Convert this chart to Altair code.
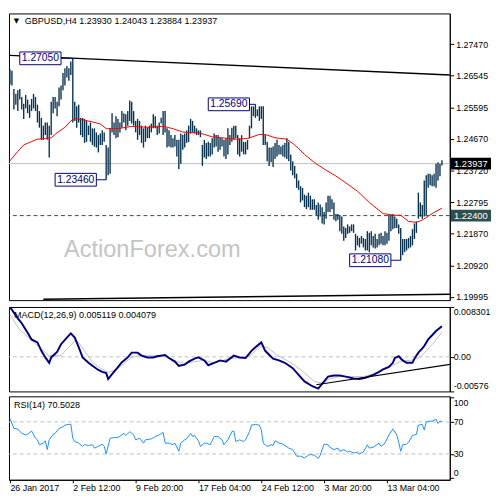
import altair as alt
import pandas as pd

# ---------------- data ----------------
highs = [
    1.2673, 1.2668, 1.2614, 1.2600, 1.2611, 1.2614, 1.2591, 1.2571, 1.2597, 1.2583,
    1.2568, 1.2585, 1.2600, 1.2591, 1.2568, 1.2549, 1.2529, 1.2506, 1.2515, 1.2515,
    1.2506, 1.2577, 1.2591, 1.2591, 1.2577, 1.2619, 1.2625, 1.2662, 1.2676, 1.2682,
    1.2676, 1.2696, 1.2705, 1.2577, 1.2563, 1.2568, 1.2529, 1.2529, 1.2526, 1.2520,
    1.2506, 1.2515, 1.2498, 1.2498, 1.2486, 1.2478, 1.2483, 1.2492, 1.2486, 1.2449,
    1.2441, 1.2498, 1.2543, 1.2515, 1.2534, 1.2526, 1.2515, 1.2549, 1.2543, 1.2540,
    1.2549, 1.2580, 1.2577, 1.2549, 1.2520, 1.2526, 1.2520, 1.2506, 1.2498, 1.2506,
    1.2500, 1.2506, 1.2512, 1.2540, 1.2534, 1.2506, 1.2515, 1.2529, 1.2549, 1.2549,
    1.2498, 1.2492, 1.2478, 1.2469, 1.2478, 1.2464, 1.2464, 1.2483, 1.2478, 1.2483,
    1.2492, 1.2506, 1.2526, 1.2520, 1.2506, 1.2498, 1.2492, 1.2492, 1.2449, 1.2464,
    1.2455, 1.2458, 1.2455, 1.2469, 1.2483, 1.2478, 1.2478, 1.2472, 1.2469, 1.2464,
    1.2469, 1.2498, 1.2478, 1.2500, 1.2506, 1.2506, 1.2478, 1.2469, 1.2478, 1.2458,
    1.2458, 1.2464, 1.2506, 1.2563, 1.2563, 1.2569, 1.2554, 1.2563, 1.2563, 1.2563,
    1.2478, 1.2458, 1.2441, 1.2441, 1.2444, 1.2455, 1.2464, 1.2449, 1.2444, 1.2449,
    1.2455, 1.2469, 1.2458, 1.2421, 1.2401, 1.2387, 1.2364, 1.2344, 1.2327, 1.2322,
    1.2302, 1.2299, 1.2308, 1.2299, 1.2288, 1.2288, 1.2271, 1.2279, 1.2273, 1.2265,
    1.2251, 1.2279, 1.2299, 1.2299, 1.2288, 1.2279, 1.2245, 1.2245, 1.2242, 1.2237,
    1.2208, 1.2203, 1.2214, 1.2208, 1.2214, 1.2214, 1.2186, 1.2180, 1.2174, 1.2180,
    1.2174, 1.2171, 1.2194, 1.2189, 1.2194, 1.2180, 1.2186, 1.2171, 1.2186, 1.2189,
    1.2180, 1.2194, 1.2189, 1.2242, 1.2242, 1.2245, 1.2237, 1.2231, 1.2214, 1.2203,
    1.2171, 1.2171, 1.2171, 1.2174, 1.2180, 1.2200, 1.2217, 1.2223, 1.2308, 1.2279,
    1.2271, 1.2344, 1.2359, 1.2364, 1.2364, 1.2359, 1.2364, 1.2393, 1.2398, 1.2393,
    1.2404,
]
lows = [
    1.2628, 1.2625, 1.2554, 1.2568, 1.2549, 1.2583, 1.2554, 1.2526, 1.2557, 1.2543,
    1.2529, 1.2549, 1.2557, 1.2549, 1.2515, 1.2500, 1.2464, 1.2464, 1.2478, 1.2464,
    1.2412, 1.2478, 1.2543, 1.2557, 1.2534, 1.2563, 1.2583, 1.2611, 1.2625, 1.2648,
    1.2639, 1.2656, 1.2515, 1.2520, 1.2500, 1.2515, 1.2478, 1.2472, 1.2455, 1.2458,
    1.2478, 1.2458, 1.2449, 1.2444, 1.2441, 1.2427, 1.2449, 1.2449, 1.2458, 1.2346,
    1.2359, 1.2364, 1.2486, 1.2478, 1.2469, 1.2472, 1.2486, 1.2500, 1.2515, 1.2492,
    1.2506, 1.2520, 1.2512, 1.2506, 1.2486, 1.2464, 1.2478, 1.2455, 1.2441, 1.2458,
    1.2469, 1.2469, 1.2486, 1.2498, 1.2498, 1.2478, 1.2483, 1.2512, 1.2478, 1.2486,
    1.2441, 1.2444, 1.2441, 1.2441, 1.2444, 1.2415, 1.2378, 1.2393, 1.2435, 1.2441,
    1.2455, 1.2458, 1.2483, 1.2486, 1.2483, 1.2478, 1.2478, 1.2472, 1.2387, 1.2412,
    1.2407, 1.2415, 1.2415, 1.2421, 1.2441, 1.2444, 1.2429, 1.2435, 1.2444, 1.2415,
    1.2407, 1.2421, 1.2449, 1.2458, 1.2464, 1.2469, 1.2421, 1.2415, 1.2429, 1.2421,
    1.2421, 1.2435, 1.2469, 1.2498, 1.2534, 1.2529, 1.2534, 1.2520, 1.2526, 1.2449,
    1.2449, 1.2401, 1.2387, 1.2398, 1.2384, 1.2407, 1.2415, 1.2421, 1.2421, 1.2415,
    1.2412, 1.2407, 1.2401, 1.2373, 1.2359, 1.2350, 1.2322, 1.2316, 1.2279, 1.2285,
    1.2265, 1.2259, 1.2265, 1.2257, 1.2257, 1.2257, 1.2242, 1.2228, 1.2237, 1.2217,
    1.2214, 1.2231, 1.2251, 1.2251, 1.2259, 1.2228, 1.2223, 1.2228, 1.2194, 1.2186,
    1.2166, 1.2174, 1.2186, 1.2189, 1.2194, 1.2189, 1.2137, 1.2152, 1.2146, 1.2157,
    1.2146, 1.2137, 1.2137, 1.2132, 1.2152, 1.2146, 1.2143, 1.2146, 1.2152, 1.2157,
    1.2152, 1.2152, 1.2157, 1.2166, 1.2194, 1.2200, 1.2203, 1.2203, 1.2186, 1.2108,
    1.2123, 1.2132, 1.2137, 1.2143, 1.2146, 1.2152, 1.2171, 1.2189, 1.2231, 1.2237,
    1.2231, 1.2237, 1.2242, 1.2322, 1.2330, 1.2327, 1.2327, 1.2322, 1.2344, 1.2356,
    1.2388,
]

ma_idx = [0, 4, 7, 11, 14, 18, 21, 24, 28, 31, 33, 37, 42, 46, 49, 53, 56, 62, 70, 78,
          83, 88, 92, 96, 99, 103, 108, 115, 121, 127, 130, 135, 141, 145, 150, 155, 160, 166, 170, 177,
          183, 190, 196, 199, 203, 207, 210, 215, 220]
ma_val = [1.2402, 1.2430, 1.2449, 1.2459, 1.2466, 1.2468, 1.2470, 1.2485, 1.2501, 1.2520,
          1.2527, 1.2523, 1.2517, 1.2511, 1.2497, 1.2497, 1.2498, 1.2504, 1.2501, 1.2504,
          1.2497, 1.2487, 1.2485, 1.2485, 1.2480, 1.2473, 1.2470, 1.2466, 1.2468, 1.2480,
          1.2480, 1.2470, 1.2466, 1.2449, 1.2421, 1.2397, 1.2378, 1.2357, 1.2341, 1.2312,
          1.2279, 1.2246, 1.2241, 1.2241, 1.2223, 1.2220, 1.2227, 1.2246, 1.2262]

macd_idx = [0, 4, 6, 9, 11, 14, 16, 18, 20, 21, 24, 26, 29, 31, 33, 35, 37, 40, 42, 45,
            47, 49, 50, 52, 55, 57, 60, 62, 65, 67, 70, 73, 75, 79, 81, 84, 86, 89, 91, 94,
            96, 99, 101, 104, 107, 110, 114, 117, 120, 123, 125, 128, 130, 134, 137, 140, 144, 147, 150, 154,
            157, 160, 162, 165, 168, 171, 175, 178, 181, 185, 188, 190, 193, 195, 196, 198, 200, 202, 205, 206,
            208, 210, 211, 213, 215, 217, 220]
macd_val = [0.0083, 0.0064, 0.0056, 0.0040, 0.0029, 0.0024, 0.0010, -0.0001, -0.0010, -0.0001,
            0.0008, 0.0021, 0.0032, 0.0039, 0.0032, 0.0016, -0.0001, -0.0010, -0.0015, -0.0022,
            -0.0025, -0.0027, -0.0037, -0.0029, -0.0017, -0.0009, -0.0001, 0.0007, 0.0007, 0.0002,
            -0.0001, -0.0001, 0.0001, 0.0003, -0.0002, -0.0008, -0.0015, -0.0013, -0.0008, -0.0003,
            -0.0001, -0.0006, -0.0014, -0.0010, -0.0006, -0.0008, 0.0002, -0.0001, -0.0002, 0.0010,
            0.0016, 0.0024, 0.0010, -0.0003, -0.0006, -0.0010, -0.0019, -0.0030, -0.0041, -0.0049,
            -0.0053, -0.0041, -0.0033, -0.0031, -0.0031, -0.0033, -0.0036, -0.0037, -0.0035, -0.0030,
            -0.0025, -0.0021, -0.0017, -0.0010, -0.0002, 0.0001, -0.0006, -0.0010, -0.0010, -0.0003,
            0.0007, 0.0014, 0.0018, 0.0029, 0.0036, 0.0043, 0.0051]

sig_idx = [0, 5, 15, 20, 26, 29, 33, 35, 39, 42, 46, 50, 54, 58, 62, 67, 72, 79, 85, 89,
           94, 99, 104, 112, 119, 123, 127, 131, 136, 141, 145, 150, 155, 159, 163, 168, 174, 180, 185, 190,
           195, 200, 204, 209, 212, 216, 220]
sig_val = [0.0070, 0.0045, 0.0016, 0.0002, 0.0002, 0.0013, 0.0026, 0.0024, 0.0005, -0.0009,
           -0.0019, -0.0026, -0.0022, -0.0011, -0.0001, 0.0003, 0.0002, 0.0001, -0.0008, -0.0011,
           -0.0008, -0.0006, -0.0010, -0.0003, -0.0001, 0.0003, 0.0018, 0.0016, 0.0003, -0.0006,
           -0.0014, -0.0027, -0.0041, -0.0044, -0.0036, -0.0033, -0.0033, -0.0033, -0.0029, -0.0022,
           -0.0014, -0.0006, -0.0006, -0.0001, 0.0010, 0.0024, 0.0041]

rsi_idx = [0, 2, 4, 6, 8, 9, 11, 13, 14, 15, 17, 18, 19, 20, 22, 23, 25, 27, 28, 30,
           31, 32, 33, 35, 37, 38, 40, 42, 43, 45, 47, 48, 49, 51, 53, 55, 58, 59, 61, 63,
           64, 66, 68, 69, 72, 74, 76, 78, 79, 81, 83, 84, 86, 87, 89, 90, 92, 93, 94, 96,
           97, 99, 100, 102, 104, 106, 108, 109, 111, 113, 114, 115, 117, 119, 120, 122, 123, 125, 127, 128,
           129, 131, 133, 134, 135, 137, 139, 142, 144, 146, 148, 150, 152, 153, 155, 157, 158, 160, 162, 163,
           165, 167, 168, 170, 172, 173, 175, 177, 178, 180, 182, 183, 185, 188, 189, 191, 193, 195, 197, 198,
           199, 200, 202, 203, 205, 207, 208, 210, 211, 212, 214, 215, 217, 218, 219, 220]
rsi_val = [74.0, 61.8, 61.1, 55.7, 53.7, 54.5, 58.6, 49.6, 47.6, 41.5,
           43.5, 46.4, 35.4, 47.6, 54.5, 55.7, 61.8, 63.9, 66.0, 66.7,
           67.2, 49.6, 45.5, 43.5, 39.4, 41.5, 40.6, 41.5, 37.3, 39.4,
           42.2, 39.4, 30.0, 49.6, 50.4, 50.4, 55.7, 52.9, 57.8, 53.7,
           47.6, 49.6, 43.5, 47.6, 48.8, 51.7, 53.7, 56.9, 43.5, 43.5,
           41.5, 43.5, 33.3, 43.5, 47.6, 48.8, 55.7, 51.7, 52.9, 46.4,
           39.4, 43.5, 43.5, 41.5, 51.7, 51.7, 47.6, 41.5, 47.6, 57.8,
           58.6, 45.5, 47.6, 45.5, 47.6, 57.8, 66.0, 66.7, 66.0, 59.8,
           43.5, 39.4, 41.5, 40.6, 46.4, 43.5, 42.2, 37.3, 35.4, 27.2,
           27.2, 25.1, 28.4, 29.3, 28.4, 24.4, 28.4, 42.2, 41.5, 38.2,
           35.4, 37.3, 33.3, 35.4, 32.4, 33.3, 31.2, 32.1, 30.0, 32.4,
           41.5, 37.3, 38.2, 43.5, 39.4, 43.5, 53.7, 61.1, 53.7, 44.7,
           33.3, 41.5, 42.2, 44.7, 52.9, 54.5, 66.0, 66.7, 59.8, 70.0,
           70.9, 70.9, 73.3, 67.9, 70.9, 70.5]

price_ticks = [1.27470, 1.26545, 1.25595, 1.24670, 1.23720, 1.22795, 1.21870, 1.20920, 1.19995]
macd_ticks = [0.008301, 0.0, -0.005768]
macd_tick_labels = ["0.008301", "0.00", "-0.005768"]
rsi_ticks = [100, 70, 30, 0]
rsi_tick_labels = ["100", "70", "30", "0"]
date_idx = [0, 32, 64, 96, 128, 160, 192]
date_labels = ["26 Jan 2017", "2 Feb 12:00", "9 Feb 20:00", "17 Feb 04:00",
               "24 Feb 12:00", "3 Mar 20:00", "13 Mar 04:00"]

last_close = 1.23937
support = 1.22400
swing_idx = [32, 125, 49, 199]
swing_price = [1.27050, 1.25690, 1.23460, 1.21080]
trend_top_idx = [0, 227]
trend_top_val = [1.2714, 1.2655]
trend_bot_idx = [17, 227]
trend_bot_val = [1.1993, 1.2008]
macd_trend_idx = [156, 227]
macd_trend_val = [-0.00465, -0.00111]

title_main = "GBPUSD,H4  1.23930 1.24043 1.23884 1.23937"
title_macd = "MACD(12,26,9) 0.005119 0.004079"
title_rsi = "RSI(14) 70.5028"
watermark = "ActionForex.com"

# ---------------- styling ----------------
W = 449
H_MAIN, H_MACD, H_RSI = 292, 86, 85
FONT = "Liberation Sans"
BAR = "#0a3350"
NAVY = "#000080"

xs = alt.Scale(domain=[-0.5, 224.0], nice=False, zero=False)
ys = alt.Scale(domain=[1.19901, 1.28377], nice=False, zero=False)
ms = alt.Scale(domain=[-0.005768, 0.008301], nice=False, zero=False)
rs = alt.Scale(domain=[-2.2, 101.8], nice=False, zero=False)

X = lambda f: alt.X(f, type="quantitative", scale=xs, axis=None)

MAIN_AXIS = alt.Axis(
    orient="right", values=price_ticks, format=".5f", tickSize=4, labelPadding=2, grid=False,
    title=None, domainColor="black", tickColor="black", labelColor="black",
    labelFont=FONT, labelFontSize=9, labelOverlap=False, labelFlush=False, labelBound=False)
MACD_AXIS = alt.Axis(orient="right", values=macd_ticks, labels=False, tickSize=4, grid=False,
                     title=None, domainColor="black", tickColor="black")
RSI_AXIS = alt.Axis(orient="right", values=rsi_ticks, labels=False, tickSize=4, grid=False,
                    title=None, domainColor="black", tickColor="black")


def YM(f):
    return alt.Y(f, type="quantitative", scale=ys, axis=MAIN_AXIS)


def box_path(w, h):
    r = h / w
    return f"M-1,-{r:.4f}L1,-{r:.4f}L1,{r:.4f}L-1,{r:.4f}Z"


# ---------------- main panel ----------------
bars_df = pd.DataFrame({"idx": list(range(len(highs))), "high": highs, "low": lows})
ma_df = pd.DataFrame({"idx": ma_idx, "v": ma_val})

layers = []
layers.append(alt.Chart(pd.DataFrame({"p": [last_close]})).mark_rule(color="#c0c0c0", strokeWidth=1).encode(
    y=YM("p")))
layers.append(alt.Chart(pd.DataFrame({"p": [support]})).mark_rule(color="#2f4f4f", strokeWidth=1, strokeDash=[4, 3]).encode(
    y=YM("p")))
layers.append(alt.Chart(pd.DataFrame({"p": [0]})).mark_text(
    text=watermark, font=FONT, fontSize=24, color="#c4c4c4", align="left", baseline="alphabetic").encode(
    x=alt.value(56), y=alt.value(248)))
layers.append(alt.Chart(bars_df).mark_rule(color=BAR, strokeWidth=1.4).encode(
    x=X("idx"), y=YM("low"), y2="high:Q"))
layers.append(alt.Chart(ma_df).mark_line(color="#ff0000", strokeWidth=1, clip=True).encode(
    x=X("idx"), y=YM("v")))
layers.append(alt.Chart(pd.DataFrame({"idx": trend_top_idx, "v": trend_top_val})).mark_line(
    color="black", strokeWidth=1.3, clip=True).encode(x=X("idx"), y=YM("v")))
layers.append(alt.Chart(pd.DataFrame({"idx": trend_bot_idx, "v": trend_bot_val})).mark_line(
    color="black", strokeWidth=1.5, clip=True).encode(x=X("idx"), y=YM("v")))

# swing labels: (box centre offset, connector length) per label
label_style = [(-33, 12), (-27, 6), (-31, 10), (-31, 10)]
for (i, p), (off, conn) in zip(zip(swing_idx, swing_price), label_style):
    df = pd.DataFrame({"idx": [i], "p": [p]})
    layers.append(alt.Chart(df).mark_rule(color=NAVY, strokeWidth=1, xOffset=-conn, x2Offset=0).encode(
        x=X("idx"), x2="idx:Q", y=YM("p")))
    layers.append(alt.Chart(df).mark_point(
        shape=box_path(42, 13), size=42 * 42, filled=True, fill="white", stroke=NAVY, strokeWidth=1,
        opacity=1, xOffset=off).encode(x=X("idx"), y=YM("p")))
    layers.append(alt.Chart(df).mark_text(
        font=FONT, fontSize=10.5, color=NAVY, xOffset=off, align="center", baseline="middle").encode(
        x=X("idx"), y=YM("p"), text=alt.Text("p:Q", format=".5f")))

# right-side price boxes
for p, col in [(last_close, "black"), (support, "#2f4f4f")]:
    df = pd.DataFrame({"p": [p]})
    layers.append(alt.Chart(df).mark_point(
        shape=box_path(41, 12), size=41 * 41, filled=True, fill=col, opacity=1).encode(
        x=alt.value(W + 21.5), y=YM("p")))
    layers.append(alt.Chart(df).mark_text(
        font=FONT, fontSize=9.5, color="white", align="center", baseline="middle").encode(
        x=alt.value(W + 21.5), y=YM("p"), text=alt.Text("p:Q", format=".5f")))

layers.append(alt.Chart(pd.DataFrame({"p": [0]})).mark_text(
    text="▼", font="DejaVu Sans", fontSize=7, color="black", align="center", baseline="middle").encode(
    x=alt.value(7.5), y=alt.value(8)))
layers.append(alt.Chart(pd.DataFrame({"p": [0]})).mark_text(
    text=title_main, font=FONT, fontSize=9.2, color="black", align="left", baseline="middle").encode(
    x=alt.value(16), y=alt.value(8)))

main = alt.layer(*layers).properties(width=W, height=H_MAIN)


def side_labels(vals, texts, scale, axis, baselines, dys):
    out = []
    for v, t, b, d in zip(vals, texts, baselines, dys):
        df = pd.DataFrame({"v": [v], "t": [t]})
        out.append(alt.Chart(df).mark_text(
            align="left", baseline=b, dy=d, font=FONT, fontSize=9, color="black",
            limit=39, ellipsis=" ").encode(
            x=alt.value(W + 4), y=alt.Y("v:Q", scale=scale, axis=axis), text="t:N"))
    return out


# ---------------- MACD panel ----------------
macd_layers = [
    alt.Chart(pd.DataFrame({"p": [0]})).mark_text(
        text=title_macd, font=FONT, fontSize=9.2, color="black", align="left", baseline="middle").encode(
        x=alt.value(5), y=alt.value(8)),
    alt.Chart(pd.DataFrame({"v": [0.0]})).mark_rule(color="#c0c0c0", strokeDash=[4, 3]).encode(
        y=alt.Y("v:Q", scale=ms, axis=MACD_AXIS)),
    alt.Chart(pd.DataFrame({"idx": sig_idx, "v": sig_val})).mark_line(color="#c0c0c0", strokeWidth=1, clip=True).encode(
        x=X("idx"), y=alt.Y("v:Q", scale=ms, axis=MACD_AXIS)),
    alt.Chart(pd.DataFrame({"idx": macd_idx, "v": macd_val})).mark_line(color=NAVY, strokeWidth=2, clip=True).encode(
        x=X("idx"), y=alt.Y("v:Q", scale=ms, axis=MACD_AXIS)),
    alt.Chart(pd.DataFrame({"idx": macd_trend_idx, "v": macd_trend_val})).mark_line(
        color="black", strokeWidth=1.2, clip=True).encode(x=X("idx"), y=alt.Y("v:Q", scale=ms, axis=MACD_AXIS)),
]
macd_layers += side_labels(macd_ticks, macd_tick_labels, ms, MACD_AXIS, ["top", "middle", "bottom"], [1, 0, 0])
macd = alt.layer(*macd_layers).properties(width=W, height=H_MACD)

# ---------------- RSI panel ----------------
date_expr = "".join(f"datum.value == {i} ? '{t}' : " for i, t in zip(date_idx, date_labels)) + "''"
DATE_AXIS = alt.Axis(
    values=date_idx, labelExpr=date_expr, tickSize=3, labelAlign="left", labelBaseline="top",
    labelPadding=1, grid=False, title=None, domainColor="black", tickColor="black",
    labelColor="black", labelFont=FONT, labelFontSize=9, labelFlush=False, labelOverlap=False,
    labelBound=False)
rsi_layers = [
    alt.Chart(pd.DataFrame({"p": [0]})).mark_text(
        text=title_rsi, font=FONT, fontSize=9.2, color="black", align="left", baseline="middle").encode(
        x=alt.value(5), y=alt.value(9)),
    alt.Chart(pd.DataFrame({"v": [70, 30]})).mark_rule(color="#c0c0c0", strokeDash=[4, 3]).encode(
        y=alt.Y("v:Q", scale=rs, axis=RSI_AXIS)),
    alt.Chart(pd.DataFrame({"idx": rsi_idx, "v": rsi_val})).mark_line(color="#1e90ff", strokeWidth=1, clip=True).encode(
        x=alt.X("idx:Q", scale=xs, axis=DATE_AXIS),
        y=alt.Y("v:Q", scale=rs, axis=RSI_AXIS)),
]
rsi_layers += side_labels(rsi_ticks, rsi_tick_labels, rs, RSI_AXIS, ["top", "middle", "middle", "bottom"], [1, 0, 0, 0])
rsi = alt.layer(*rsi_layers).properties(width=W, height=H_RSI)

chart = alt.vconcat(main, macd, rsi, spacing=3).resolve_scale(y="independent").properties(
    padding=0, background="white"
).configure_view(stroke="black", strokeWidth=1)

chart.save("out.html", embed_options={"renderer": "svg", "actions": False})
